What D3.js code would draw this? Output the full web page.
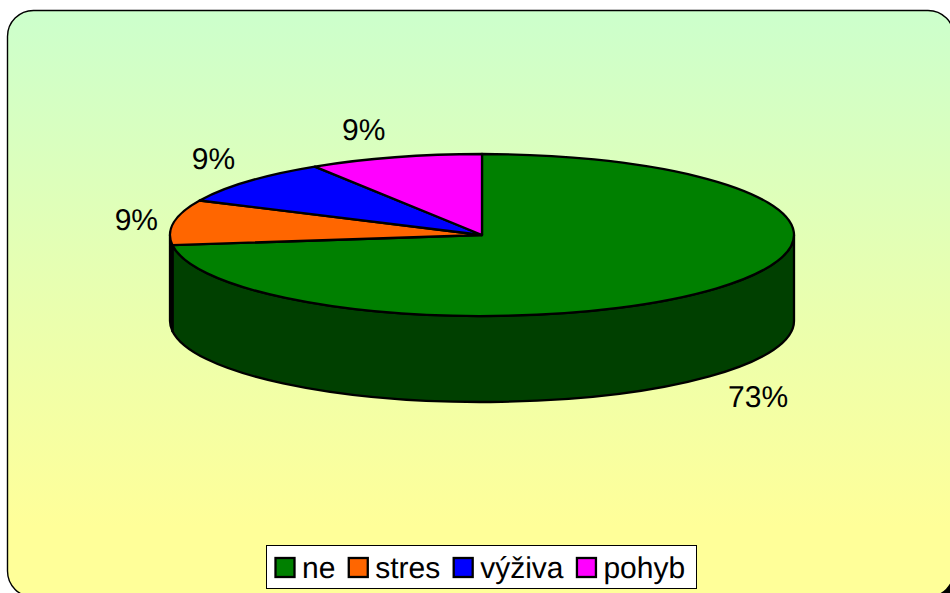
<!DOCTYPE html>
<html><head><meta charset="utf-8">
<script src="https://cdn.jsdelivr.net/npm/d3@7/dist/d3.min.js"></script>
<style>html,body{margin:0;padding:0;background:#fff;overflow:hidden}svg{display:block}text{font-family:"Liberation Sans",Arial,sans-serif;fill:#000;text-rendering:geometricPrecision}</style>
</head><body><svg id="c" width="950" height="593"></svg>
<script>
const categories = ["ne","stres","výživa","pohyb"];
const shares = [73,9,9,9];
const labels = ["73%","9%","9%","9%"];
const topColors = ["#008000","#ff6600","#0000ff","#ff00ff"];
const sideColors = ["#004000","#000000","#000080","#800080"];

const W=950,H=593, cx=482, cy=235, rx=312, ry=81, depth=86;
const svg=d3.select("#c");
const defs=svg.append("defs");
const g=defs.append("linearGradient").attr("id","bg").attr("x1",0).attr("y1",0).attr("x2",0).attr("y2",1);
g.append("stop").attr("offset",0).attr("stop-color","#ccffcc");
g.append("stop").attr("offset",0.88).attr("stop-color","#ffff99");
g.append("stop").attr("offset",1).attr("stop-color","#ffff99");
svg.append("rect").attr("x",13.5).attr("y",16.5).attr("width",946.5).attr("height",586.5).attr("rx",26).attr("ry",26).attr("fill","#000");
svg.append("rect").attr("x",7.5).attr("y",10.5).attr("width",946.5).attr("height",586.5).attr("rx",26).attr("ry",26)
  .attr("fill","url(#bg)").attr("stroke","#000").attr("stroke-width",1.4);

const arcs=d3.pie().sort(null).value(d=>d)(shares);
const pt=(a,dy=0)=>[cx+rx*Math.sin(a), cy-ry*Math.cos(a)+dy];

const wall=svg.append("g");
arcs.forEach((d,i)=>{
  const a0=Math.max(d.startAngle,Math.PI/2), a1=Math.min(d.endAngle,3*Math.PI/2);
  if(a1<=a0) return;
  const [x0,y0]=pt(a0),[x1,y1]=pt(a1);
  const large=(a1-a0)>Math.PI?1:0;
  wall.append("path")
    .attr("d",`M${x0},${y0}A${rx},${ry} 0 ${large} 1 ${x1},${y1}L${x1},${y1+depth}A${rx},${ry} 0 ${large} 0 ${x0},${y0+depth}Z`)
    .attr("fill",sideColors[i]).attr("stroke","#000").attr("stroke-width",2.3).attr("stroke-linejoin","round");
});

const arcGen=d3.arc().innerRadius(0).outerRadius(rx);
svg.append("g").attr("transform",`translate(${cx},${cy}) scale(1,${ry/rx})`)
  .selectAll("path").data(arcs).join("path")
  .attr("d",arcGen).attr("fill",(d,i)=>topColors[i])
  .attr("stroke","#000").attr("stroke-width",2.3).attr("stroke-linejoin","round")
  .attr("vector-effect","non-scaling-stroke");

svg.append("g").selectAll("text").data(arcs).join("text")
  .attr("text-anchor","middle").attr("font-size",30)
  .attr("x",(d,i)=>{const m=(d.startAngle+d.endAngle)/2;return cx+(rx+[56,38,46,112][i])*Math.sin(m);})
  .attr("y",(d,i)=>{const m=(d.startAngle+d.endAngle)/2;return cy-(ry+[162.5,15,35,29][i])*Math.cos(m)+10.5;})
  .text((d,i)=>labels[i]);

const legend=svg.append("g");
legend.append("rect").attr("x",266.5).attr("y",545.5).attr("width",430).attr("height",43).attr("fill","#fff").attr("stroke","#000").attr("stroke-width",1);
let lx=275.5;
categories.forEach((c,i)=>{
  legend.append("rect").attr("x",lx).attr("y",558).attr("width",19).attr("height",19).attr("fill",topColors[i]).attr("stroke","#000").attr("stroke-width",2.3);
  const t=legend.append("text").attr("x",lx+26.5).attr("y",578).attr("font-size",30).text(c);
  lx+=26.5+t.node().getComputedTextLength()+13.4;
});
</script></body></html>
